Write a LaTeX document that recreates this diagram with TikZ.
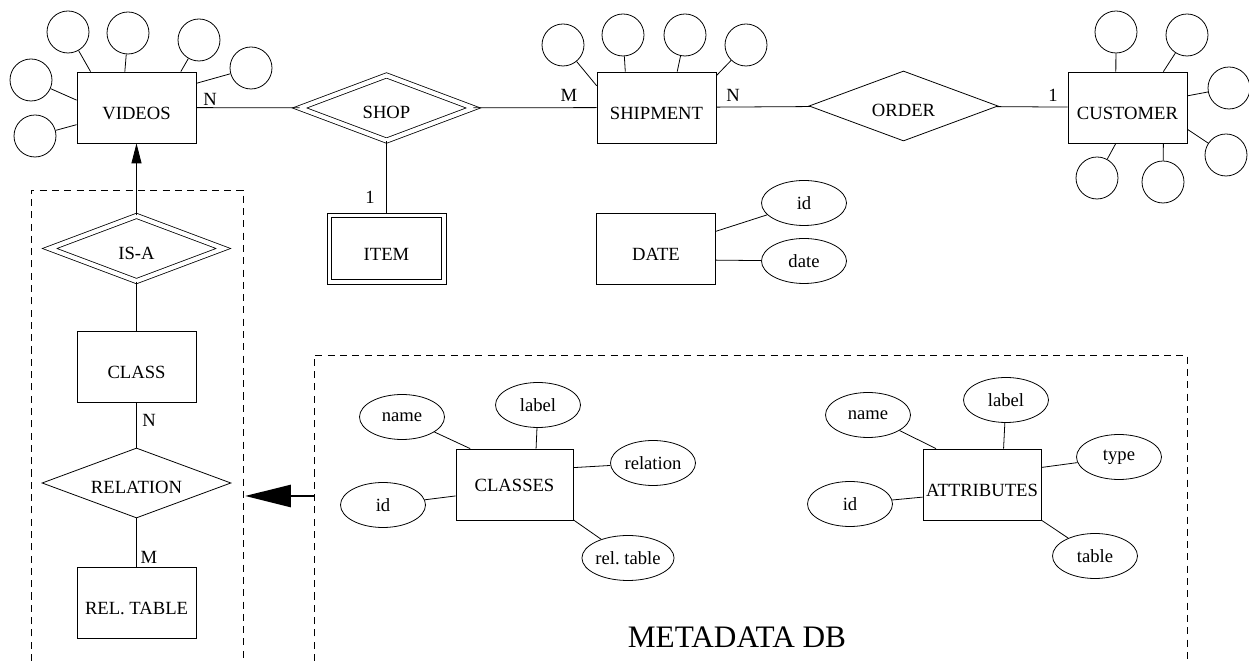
\documentclass[tikz,border=0pt]{standalone}
\usepackage{fontspec}
\setmainfont{Liberation Serif}
\usetikzlibrary{shapes.geometric,arrows.meta}

\begin{document}
\begin{tikzpicture}[x=0.02cm, y=-0.02cm, line width=0.45pt,
    every node/.style={font=\fontsize{10.6}{12}\selectfont},
    entity/.style={draw, rectangle, minimum width=2.38cm, minimum height=1.42cm,
      inner sep=0pt, text height=0.48cm, text depth=0pt},
    relship/.style={draw, diamond, aspect=2.7, minimum width=3.78cm,
      minimum height=1.4cm, inner sep=0pt, text height=0.44cm, text depth=0pt},
    weakrel/.style={relship, double, double distance=2.4pt,
      minimum width=3.48cm, minimum height=1.31cm},
    attr/.style={draw, circle, minimum size=0.84cm, inner sep=0pt},
    field/.style={draw, ellipse, minimum width=1.7cm, minimum height=0.9cm, inner sep=0pt},
    card/.style={inner sep=0pt},
    dbframe/.style={dash pattern=on 4pt off 3pt}]
  \useasboundingbox (0,0) rectangle (1249,661);

  \node[entity] (videos) at (136.5,107.5) {VIDEOS};
  \node[weakrel] (shop) at (386.5,108) {SHOP};
  \node[entity] (shipment) at (656.5,107.5) {SHIPMENT};
  \node[relship] (order) at (903.5,106) {ORDER};
  \node[entity] (customer) at (1127.5,107.5) {CUSTOMER};
  \node[entity] (item) at (386.5,248.5) {ITEM};
  \draw ([shift={(5,5)}]item.north west) rectangle ([shift={(-5,-5)}]item.south east);
  \node[entity] (date) at (656,248.5) {DATE};

  \node[attr] (v1) at (68,32) {};
  \node[attr] (v2) at (128,33) {};
  \node[attr] (v3) at (199,40) {};
  \node[attr] (v4) at (251,68) {};
  \node[attr] (v5) at (31,80) {};
  \node[attr] (v6) at (35,136) {};
  \foreach \n/\a in {v1/142, v2/108, v3/39, v4/22, v5/173, v6/196}
    \draw (\n) -- (videos.\a);

  \node[attr] (s1) at (563,45) {};
  \node[attr] (s2) at (623,35) {};
  \node[attr] (s3) at (685,35) {};
  \node[attr] (s4) at (746,45) {};
  \foreach \n/\a in {s1/160, s2/131, s3/60, s4/28}
    \draw (\n) -- (shipment.\a);

  \node[attr] (c1) at (1116,32) {};
  \node[attr] (c2) at (1187,35) {};
  \node[attr] (c3) at (1229,88) {};
  \node[attr] (c4) at (1226,155) {};
  \node[attr] (c5) at (1163,182) {};
  \node[attr] (c6) at (1097,178) {};
  \foreach \n/\a in {c1/108, c2/45, c3/11, c4/340, c5/315, c6/252}
    \draw (\n) -- (customer.\a);

  \node[field] (dateid) at (804,203) {id};
  \node[field] (datedate) at (804,261) {date};
  \draw (dateid) -- (date.16);
  \draw (datedate) -- (date.349);

  \draw (videos) -- (shop);
  \draw (shop) -- (shipment);
  \draw (shipment) -- (order);
  \draw (order) -- (customer);
  \draw (shop) -- (item);
  \node[card] (nvideos) at (210,99) {N};
  \node[card] (mshipment) at (569,95) {M};
  \node[card] (nshipment) at (733,95) {N};
  \node[card] (onecustomer) at (1053,95) {1};
  \node[card] (oneitem) at (370,197) {1};

  \draw[dbframe] (31,661) -- (31,190) -- (243,190) -- (243,661);
  \node[weakrel] (isa) at (136.5,248.5) {IS-A};
  \node[entity] (class) at (136.5,367) {CLASS};
  \node[relship] (relation) at (136.5,483) {RELATION};
  \node[entity] (reltable) at (136.5,602.5) {REL.\ TABLE};
  \draw[-{Triangle[length=0.4cm,width=0.2cm]}] (isa) -- (videos);
  \draw (isa) -- (class);
  \draw (class) -- (relation);
  \draw (relation) -- (reltable);
  \node[card] (nclass) at (149,420) {N};
  \node[card] (mreltable) at (149,557) {M};

  \draw[dbframe] (314,661) -- (314,355) -- (1187,355) -- (1187,661);
  \coordinate (metaw) at (314,496);
  \coordinate (schemae) at (245,496);
  \draw[line width=1.7pt, -{Triangle[length=0.92cm,width=0.44cm]}] (metaw) -- (schemae);

  \node[entity, minimum width=2.34cm, text height=0.28cm] (classes) at (514.5,484.5) {CLASSES};
  \node[field] (cname) at (402,417) {name};
  \node[field] (clabel) at (538,405) {label};
  \node[field] (crel) at (653,463) {relation};
  \node[field] (cid) at (383,505) {id};
  \node[field] (creltab) at (628,558) {rel.\ table};
  \foreach \n/\a in {cname/141, clabel/59, crel/16, cid/191, creltab/329}
    \draw (\n) -- (classes.\a);

  \node[entity, minimum width=2.36cm] (attributes) at (982,484.5) {ATTRIBUTES};
  \node[field] (aname) at (868,415) {name};
  \node[field] (alabel) at (1006,400) {label};
  \node[field] (atype) at (1119,457) {type};
  \node[field] (aid) at (850,504) {id};
  \node[field] (atable) at (1095,556) {table};
  \foreach \n/\a in {aname/142, alabel/59, atype/16, aid/192, atable/329}
    \draw (\n) -- (attributes.\a);

  \node[font=\fontsize{17.8}{20}\selectfont] (metadb) at (737,637.5) {METADATA DB};
\end{tikzpicture}
\end{document}
